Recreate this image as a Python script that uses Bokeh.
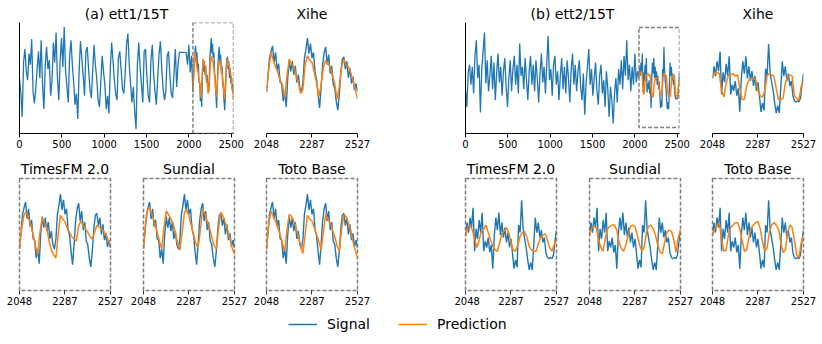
import numpy as np
from bokeh.plotting import figure
from bokeh.models import Range1d, FixedTicker, BoxAnnotation, Legend, LegendItem, Title
from bokeh.layouts import column, row
from bokeh.embed import file_html
from bokeh.resources import INLINE

# ---------------- data ----------------
main_ticks = [0, 500, 1000, 1500, 2000, 2500]
zoom_ticks = [2048, 2287, 2527]
win_start, win_end = 2048, 2527
hist_step = 16

ett1_hist = [50, 36, 15, 64, 76, 56,
             48, 72, 62, 85, 38, 27,
             40, 58, 74, 50, 84, 44,
             22, 62, 78, 58, 66, 34,
             48, 82, 64, 91, 50, 30,
             66, 86, 60, 96, 56, 42,
             28, 70, 84, 62, 46, 26,
             36, 13, 56, 83, 68, 52,
             34, 74, 78, 58, 40, 32,
             56, 80, 62, 50, 30, 24,
             46, 70, 56, 44, 22, 34,
             18, 58, 82, 66, 48, 36,
             30, 68, 74, 58, 40, 36,
             54, 80, 90, 62, 44, 28,
             42, 20, 4, 62, 82, 60,
             44, 28, 74, 76, 52, 34,
             28, 66, 80, 54, 38, 26,
             50, 72, 83, 58, 40, 30,
             38, 70, 74, 52, 36, 32,
             54, 76, 42, 62, 73, 73,
             73, 73, 73, 73, 62, 80,
             55, 70]
ett1_signal = [37, 52, 68, 74, 79, 64, 73, 57, 63, 46, 45, 29, 37, 24, 50, 66, 56, 65, 53, 61,
               46, 53, 41, 37, 46, 68, 76, 86, 72, 81, 68, 73, 55, 49, 35, 23, 41, 62, 73, 78,
               62, 71, 54, 61, 44, 41, 29, 21, 35, 55, 67, 69, 58, 65, 50, 59, 45, 51, 39, 45, 38]
ett1_xihe = [38, 58, 73, 66, 60, 55, 48, 44, 32, 52, 67, 63, 60, 52, 46, 36, 40, 62, 70, 66,
             64, 55, 46, 33, 44, 60, 66, 63, 60, 52, 45, 31, 42, 60, 67, 62, 60, 55, 48, 40, 31]
ett1_timesfm = [38, 56, 68, 70, 64, 58, 50, 40, 32, 52, 65, 60, 56, 44, 36, 32, 29, 50, 67, 64,
                61, 56, 52, 48, 46, 44, 58, 62, 58, 55, 52, 48, 46, 52, 58, 57, 55, 53, 50, 45, 41]
ett1_sundial = [38, 62, 74, 72, 66, 60, 52, 44, 37, 56, 71, 68, 64, 60, 52, 42, 36, 52, 70, 72,
                66, 58, 50, 42, 38, 54, 72, 68, 62, 56, 48, 40, 37, 56, 70, 66, 60, 54, 46, 38, 32]
ett1_toto = [36, 60, 71, 66, 62, 56, 50, 42, 35, 54, 68, 66, 62, 56, 48, 40, 33, 50, 67, 64,
             62, 56, 50, 44, 36, 52, 68, 64, 60, 54, 48, 40, 35, 55, 68, 66, 60, 54, 44, 36, 29]

ett2_hist = [40, 24, 55, 62, 44, 60,
             36, 70, 84, 50, 62, 19,
             58, 74, 91, 45, 66, 38,
             52, 70, 40, 64, 30, 55,
             72, 46, 60, 34, 56, 68,
             42, 24, 50, 66, 38, 58,
             70, 44, 62, 36, 81, 52,
             60, 40, 68, 48, 30, 56,
             70, 44, 62, 38, 66, 50,
             28, 54, 72, 46, 60, 36,
             64, 88, 48, 58, 34, 62,
             70, 44, 56, 30, 52, 68,
             40, 60, 36, 66, 50, 28,
             58, 72, 44, 62, 38, 56,
             66, 42, 30, 54, 17, 46,
             60, 76, 44, 58, 34, 50,
             64, 38, 26, 52, 62, 36,
             48, 24, 56, 40, 15, 42,
             30, 9, 36, 50, 28, 58,
             44, 66, 40, 70, 52, 84,
             48, 62, 38, 60, 44, 72,
             46, 56]
ett2_signal = [50, 60, 52, 64, 56, 72, 37, 55, 47, 62, 52, 68, 37, 45, 40, 48, 36, 42, 23, 50,
               64, 54, 68, 50, 60, 48, 56, 44, 52, 40, 47, 35, 23, 30, 24, 58, 52, 78, 55, 47,
               40, 30, 22, 28, 22, 42, 64, 52, 60, 48, 54, 44, 48, 36, 32, 31, 32, 31, 34, 45, 54]
ett2_xihe = [51, 55, 55, 54, 40, 35, 46, 53, 53, 54, 52, 53, 42, 33, 33, 44, 49, 50, 50, 49,
             40, 36, 35, 40, 52, 54, 53, 52, 42, 33, 33, 34, 46, 52, 53, 52, 36, 34, 32, 44, 48]
ett2_timesfm = [49, 57, 58, 54, 47, 40, 46, 53, 55, 58, 52, 46, 41, 38, 37, 44, 51, 53, 56, 52,
                44, 38, 37, 42, 49, 52, 53, 48, 41, 38, 37, 37, 43, 48, 50, 51, 46, 40, 37, 42, 46]
ett2_sundial = [50, 56, 57, 56, 46, 40, 37, 48, 55, 57, 58, 58, 54, 44, 39, 37, 42, 50, 57, 58,
                57, 50, 42, 37, 40, 52, 57, 58, 55, 50, 42, 36, 35, 44, 52, 54, 53, 47, 36, 48, 54]
ett2_toto = [50, 55, 58, 60, 46, 37, 38, 50, 56, 58, 60, 60, 55, 46, 37, 38, 48, 56, 58, 60,
             61, 55, 44, 37, 40, 52, 58, 60, 58, 55, 44, 36, 38, 52, 58, 56, 46, 34, 32, 44, 50]

ett1_main_range = (0, 100)
ett1_zoom_range = (0, 100)
ett2_main_range = (0, 100)
ett2_zoom_range = (5.4, 95.5)

# ---------------- style ----------------
FONT = "DejaVu Sans"
BLUE = "#1f77b4"
ORANGE = "#ff7f0e"
BOX = "#808080"


def base_fig(fw, fh, left, right, top, bottom, xr, yr, ticks, title, standoff, yaxis=False):
    p = figure(frame_width=fw, frame_height=fh,
               min_border_left=left, min_border_right=right,
               min_border_top=top, min_border_bottom=bottom,
               x_range=Range1d(*xr), y_range=Range1d(*yr),
               output_backend="svg", toolbar_location=None,
               y_axis_location="left" if yaxis else None)
    p.title = Title(text=title, align="center", text_font=FONT, text_font_size="14px",
                    text_font_style="normal", text_color="#000000", standoff=standoff, offset=0)
    p.xgrid.visible = False
    p.ygrid.visible = False
    p.outline_line_color = None
    ax = p.xaxis[0]
    ax.ticker = FixedTicker(ticks=ticks)
    ax.major_label_text_font = FONT
    ax.major_label_text_font_size = "10px"
    ax.major_label_text_color = "#000000"
    ax.major_tick_out = 4
    ax.major_tick_in = 0
    ax.major_label_standoff = 2
    ax.minor_tick_line_color = None
    ax.axis_line_width = 1
    if yaxis:
        ya = p.yaxis[0]
        ya.ticker = FixedTicker(ticks=[])
        ya.major_tick_out = 0
        ya.major_tick_in = 0
        ya.major_label_standoff = 0
        ya.minor_tick_line_color = None
        ya.major_tick_line_color = None
    return p


x_pred = np.linspace(win_start, win_end, len(ett1_xihe))


def main_panel(hist, signal, pred, main_range, zoom_range, title, left, right):
    x_hist = np.arange(len(hist)) * hist_step
    x_win = np.linspace(win_start, win_end, len(signal))
    xs = np.concatenate([x_hist, x_win])
    ys = list(hist) + list(signal)
    p = base_fig(214, 111, left, right, 22, 20, (0, win_end), main_range, main_ticks, title, 2, yaxis=True)
    p.line(xs, ys, line_color=BLUE, line_width=1.3)
    p.line(x_pred, pred, line_color=ORANGE, line_width=1.5)
    p.add_layout(BoxAnnotation(left=win_start, right=win_end, bottom=zoom_range[0], top=zoom_range[1],
                               fill_alpha=0, line_color=BOX, line_alpha=1, line_dash="4 2",
                               line_width=1.5))
    return p


def zoom_panel(signal, pred, zoom_range, title, left, right, top, fh, boxed):
    x_win = np.linspace(win_start, win_end, len(signal))
    p = base_fig(91, fh, left, right, top, 20, (win_start, win_end), zoom_range, zoom_ticks,
                 title, 4 if boxed else 2)
    p.line(x_win, signal, line_color=BLUE, line_width=1.4)
    p.line(x_pred, pred, line_color=ORANGE, line_width=1.5)
    if boxed:
        p.outline_line_color = BOX
        p.outline_line_dash = "4 2"
        p.outline_line_width = 1.5
        p.xaxis[0].axis_line_color = None
        p.xaxis[0].major_tick_line_color = "#333333"
    return p


a_main = main_panel(ett1_hist, ett1_signal, ett1_xihe, ett1_main_range, ett1_zoom_range, "(a) ett1/15T", 19, 16)
a_xihe = zoom_panel(ett1_signal, ett1_xihe, ett1_zoom_range, "Xihe", 17, 97, 22, 111, False)
b_main = main_panel(ett2_hist, ett2_signal, ett2_xihe, ett2_main_range, ett2_zoom_range, "(b) ett2/15T", 11, 16)
b_xihe = zoom_panel(ett2_signal, ett2_xihe, ett2_zoom_range, "Xihe", 17, 19, 22, 111, False)

a_tfm = zoom_panel(ett1_signal, ett1_timesfm, ett1_zoom_range, "TimesFM 2.0", 19, 16, 25, 112, True)
a_sun = zoom_panel(ett1_signal, ett1_sundial, ett1_zoom_range, "Sundial", 17, 16, 25, 112, True)
a_toto = zoom_panel(ett1_signal, ett1_toto, ett1_zoom_range, "Toto Base", 16, 97, 25, 112, True)
b_tfm = zoom_panel(ett2_signal, ett2_timesfm, ett2_zoom_range, "TimesFM 2.0", 11, 16, 25, 112, True)
b_sun = zoom_panel(ett2_signal, ett2_sundial, ett2_zoom_range, "Sundial", 17, 16, 25, 112, True)
b_toto = zoom_panel(ett2_signal, ett2_toto, ett2_zoom_range, "Toto Base", 16, 19, 25, 112, True)

# legend strip
lg = figure(frame_width=822, frame_height=34, min_border=0, x_range=Range1d(0, 1), y_range=Range1d(0, 1),
            x_axis_location=None, y_axis_location=None, output_backend="svg", toolbar_location=None)
lg.xgrid.visible = False
lg.ygrid.visible = False
lg.outline_line_color = None
r1 = lg.line([np.nan, np.nan], [np.nan, np.nan], line_color=BLUE, line_width=1.5)
r2 = lg.line([np.nan, np.nan], [np.nan, np.nan], line_color=ORANGE, line_width=1.5)
legend = Legend(items=[LegendItem(label="Signal", renderers=[r1]),
                       LegendItem(label="Prediction", renderers=[r2])],
                orientation="horizontal", location=(288, 10), padding=0, margin=0,
                spacing=28, glyph_width=29, glyph_height=20, label_standoff=10,
                label_text_font=FONT, label_text_font_size="14px", label_text_color="#000000",
                border_line_color=None, background_fill_alpha=0)
lg.add_layout(legend)

layout = column(row(a_main, a_xihe, b_main, b_xihe),
                row(a_tfm, a_sun, a_toto, b_tfm, b_sun, b_toto),
                lg)

open("out.html", "w").write(file_html(layout, INLINE))
